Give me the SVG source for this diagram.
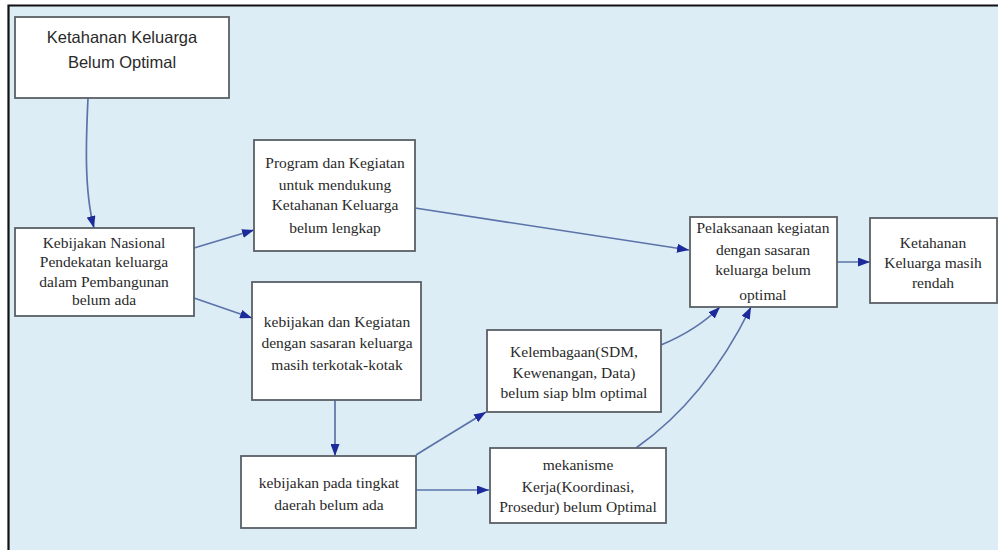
<svg xmlns="http://www.w3.org/2000/svg" width="998" height="550" viewBox="0 0 998 550">
<style>
.box{fill:#ffffff;stroke:#5a5f66;stroke-width:1.8}
.t{font-family:"Liberation Serif","Times New Roman",serif;font-size:15.5px;fill:#2a2a2a;text-anchor:middle}
.s{font-family:"Liberation Sans",Arial,sans-serif;font-size:16.5px;fill:#2a2a2a;text-anchor:middle}
.c{fill:none;stroke:#5b73a8;stroke-width:1.7}
</style>
<defs>
<marker id="ah" viewBox="0 0 12 9" refX="12" refY="4.5" markerWidth="12" markerHeight="9" markerUnits="userSpaceOnUse" orient="auto">
<path d="M0,0 L12,4.5 L0,9 z" fill="#1c2a9c"/>
</marker>
</defs>
<rect x="0" y="0" width="998" height="550" fill="#ffffff"/>
<rect x="9" y="6" width="989" height="544" fill="#dcedf5"/>
<path d="M8.5,550 V5.5 H998" fill="none" stroke="#111" stroke-width="2.2"/>

<g id="connectors">
<path class="c" d="M88,98 C86,140 84,190 94,228" marker-end="url(#ah)"/>
<path class="c" d="M194,248 L254,230" marker-end="url(#ah)"/>
<path class="c" d="M194,298 L252,318" marker-end="url(#ah)"/>
<path class="c" d="M415,208 L689,250" marker-end="url(#ah)"/>
<path class="c" d="M335,400 L335,456" marker-end="url(#ah)"/>
<path class="c" d="M416,455 C440,440 465,425 486,412" marker-end="url(#ah)"/>
<path class="c" d="M416,490 L489,490" marker-end="url(#ah)"/>
<path class="c" d="M661,345 C685,335 705,322 720,307" marker-end="url(#ah)"/>
<path class="c" d="M636,448 C690,410 725,360 751,307" marker-end="url(#ah)"/>
<path class="c" d="M836,262 L870,262" marker-end="url(#ah)"/>
</g>

<g id="n1">
<rect class="box" x="15" y="17" width="214" height="81"/>
<text class="s" x="122" y="43">Ketahanan Keluarga</text>
<text class="s" x="122" y="68">Belum Optimal</text>
</g>
<g id="n2">
<rect class="box" x="15" y="228" width="179" height="88"/>
<text class="t" x="104" y="248">Kebijakan Nasional</text>
<text class="t" x="104" y="267">Pendekatan keluarga</text>
<text class="t" x="104" y="287">dalam Pembangunan</text>
<text class="t" x="104" y="305">belum ada</text>
</g>
<g id="n3">
<rect class="box" x="254" y="140" width="161" height="111"/>
<text class="t" x="335" y="168">Program dan Kegiatan</text>
<text class="t" x="335" y="190">untuk mendukung</text>
<text class="t" x="335" y="210">Ketahanan Keluarga</text>
<text class="t" x="335" y="233">belum lengkap</text>
</g>
<g id="n4">
<rect class="box" x="252" y="282" width="169" height="118"/>
<text class="t" x="337" y="327">kebijakan dan Kegiatan</text>
<text class="t" x="337" y="348">dengan sasaran keluarga</text>
<text class="t" x="337" y="370">masih terkotak-kotak</text>
</g>
<g id="n5">
<rect class="box" x="241" y="456" width="175" height="72"/>
<text class="t" x="329" y="488">kebijakan pada tingkat</text>
<text class="t" x="329" y="510">daerah belum ada</text>
</g>
<g id="n6">
<rect class="box" x="487" y="330" width="174" height="82"/>
<text class="t" x="574" y="357">Kelembagaan(SDM,</text>
<text class="t" x="574" y="378">Kewenangan, Data)</text>
<text class="t" x="574" y="398">belum siap blm optimal</text>
</g>
<g id="n7">
<rect class="box" x="490" y="448" width="176" height="75"/>
<text class="t" x="578" y="470">mekanisme</text>
<text class="t" x="578" y="492">Kerja(Koordinasi,</text>
<text class="t" x="578" y="512">Prosedur) belum Optimal</text>
</g>
<g id="n8">
<rect class="box" x="690" y="217" width="147" height="90"/>
<text class="t" x="763" y="233">Pelaksanaan kegiatan</text>
<text class="t" x="763" y="255">dengan sasaran</text>
<text class="t" x="763" y="275">keluarga belum</text>
<text class="t" x="763" y="300">optimal</text>
</g>
<g id="n9">
<rect class="box" x="870" y="218" width="127" height="85"/>
<text class="t" x="933" y="248">Ketahanan</text>
<text class="t" x="933" y="268">Keluarga masih</text>
<text class="t" x="933" y="288">rendah</text>
</g>
</svg>
